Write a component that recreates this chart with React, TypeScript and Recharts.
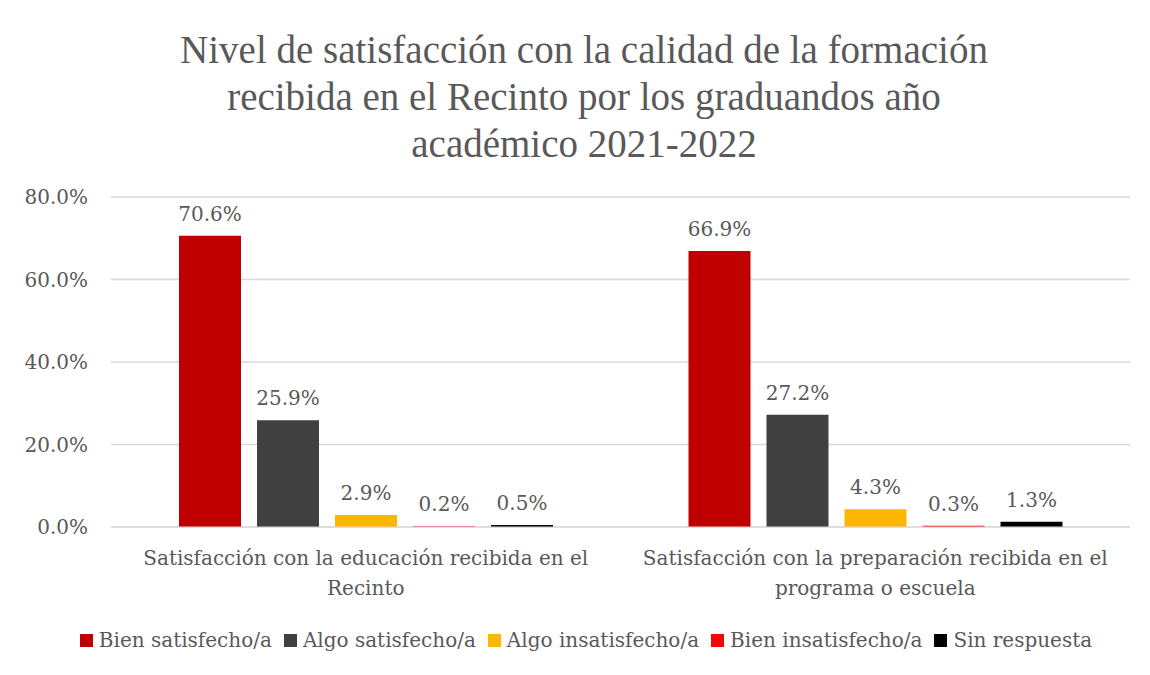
import React from 'react';
import { BarChart, Bar, XAxis, YAxis, CartesianGrid, LabelList } from 'recharts';

const CATEGORIES = [
  'Satisfacción con la educación recibida en el Recinto',
  'Satisfacción con la preparación recibida en el programa o escuela',
];
const SERIES_NAMES = ['Bien satisfecho/a', 'Algo satisfecho/a', 'Algo insatisfecho/a', 'Bien insatisfecho/a', 'Sin respuesta'];
const SERIES_KEYS = ['bienSat', 'algoSat', 'algoInsat', 'bienInsat', 'sinResp'];
const SERIES_COLORS = ['#C00000', '#404040', '#FFB600', '#FF0000', '#000000'];
const BIEN_SATISFECHO = [70.6, 66.9];
const ALGO_SATISFECHO = [25.9, 27.2];
const ALGO_INSATISFECHO = [2.9, 4.3];
const BIEN_INSATISFECHO = [0.2, 0.3];
const SIN_RESPUESTA = [0.5, 1.3];
const Y_TICKS = [0, 20, 40, 60, 80];
const TITLE_LINES = [
  'Nivel de satisfacción con la calidad de la formación',
  'recibida en el Recinto por los graduandos año',
  'académico 2021-2022',
];

const SERIES_VALUES = [BIEN_SATISFECHO, ALGO_SATISFECHO, ALGO_INSATISFECHO, BIEN_INSATISFECHO, SIN_RESPUESTA];

const chartData = CATEGORIES.map((cat, i) => {
  const row: Record<string, string | number> = { name: cat };
  SERIES_KEYS.forEach((k, s) => {
    row[k] = SERIES_VALUES[s][i];
  });
  return row;
});

const FONT = '"DejaVu Serif", serif';
const TITLE_FONT = '"Liberation Serif", serif';
const TEXT_COLOR = '#595959';

const pct = (v: number) => `${Number(v).toFixed(1)}%`;

// greedy word wrap, like the category labels in the original
function wrap(label: string, maxChars: number) {
  const lines: string[] = [];
  let cur = '';
  label.split(' ').forEach((w) => {
    const next = cur ? cur + ' ' + w : w;
    if (next.length > maxChars && cur) {
      lines.push(cur);
      cur = w;
    } else {
      cur = next;
    }
  });
  if (cur) lines.push(cur);
  return lines;
}

function CategoryTick({ x, y, payload }: any) {
  const lines = wrap(String(payload.value), 46);
  return (
    <text x={x} y={y + 30} textAnchor="middle" fill={TEXT_COLOR} fontSize={20} fontFamily={FONT}>
      {lines.map((l, i) => (
        <tspan key={i} x={x} dy={i === 0 ? 0 : 30}>
          {l}
        </tspan>
      ))}
    </text>
  );
}

export default function App() {
  return (
    <div style={{ position: 'relative', width: 1150, height: 675, margin: -8, background: '#fff', overflow: 'hidden' }}>
      {/* chart frame */}
      <div style={{ position: 'absolute', left: 6, top: 6, width: 1200, height: 700, borderTop: '2px solid #d9d9d9', borderLeft: '2px solid #d9d9d9' }} />

      <div style={{ position: 'absolute', left: 0, top: 26, width: 1168, textAlign: 'center', fontFamily: TITLE_FONT, fontSize: 39, lineHeight: '47px', color: TEXT_COLOR }}>
        {TITLE_LINES.map((l) => (
          <div key={l}>{l}</div>
        ))}
      </div>

      <div style={{ position: 'absolute', left: 0, top: 0 }}>
        <BarChart width={1150} height={675} data={chartData} margin={{ top: 197, right: 20, left: 0, bottom: 73 }} barGap={16} barSize={62}>
          <CartesianGrid vertical={false} stroke="#d9d9d9" strokeWidth={1.5} />
          <XAxis dataKey="name" height={75} tickLine={false} axisLine={{ stroke: '#d9d9d9' }} tick={<CategoryTick />} interval={0} />
          <YAxis
            width={111}
            domain={[0, 80]}
            ticks={Y_TICKS}
            tickFormatter={pct}
            axisLine={false}
            tickLine={false}
            tickSize={0}
            tickMargin={23}
            tick={{ fill: TEXT_COLOR, fontSize: 20, fontFamily: FONT }}
          />
          {SERIES_KEYS.map((k, s) => (
            <Bar key={k} dataKey={k} name={SERIES_NAMES[s]} fill={SERIES_COLORS[s]} isAnimationActive={false}>
              <LabelList dataKey={k} position="top" offset={15} formatter={pct} fill={TEXT_COLOR} fontSize={20} fontFamily={FONT} />
            </Bar>
          ))}
        </BarChart>
      </div>

      {/* legend */}
      <div style={{ position: 'absolute', left: 0, top: 628, width: 1172, display: 'flex', justifyContent: 'center', gap: 12, fontFamily: FONT, fontSize: 20, color: TEXT_COLOR }}>
        {SERIES_NAMES.map((n, s) => (
          <div key={n} style={{ display: 'flex', alignItems: 'center', gap: 6 }}>
            <span style={{ display: 'inline-block', width: 13, height: 13, background: SERIES_COLORS[s] }} />
            <span>{n}</span>
          </div>
        ))}
      </div>
    </div>
  );
}
